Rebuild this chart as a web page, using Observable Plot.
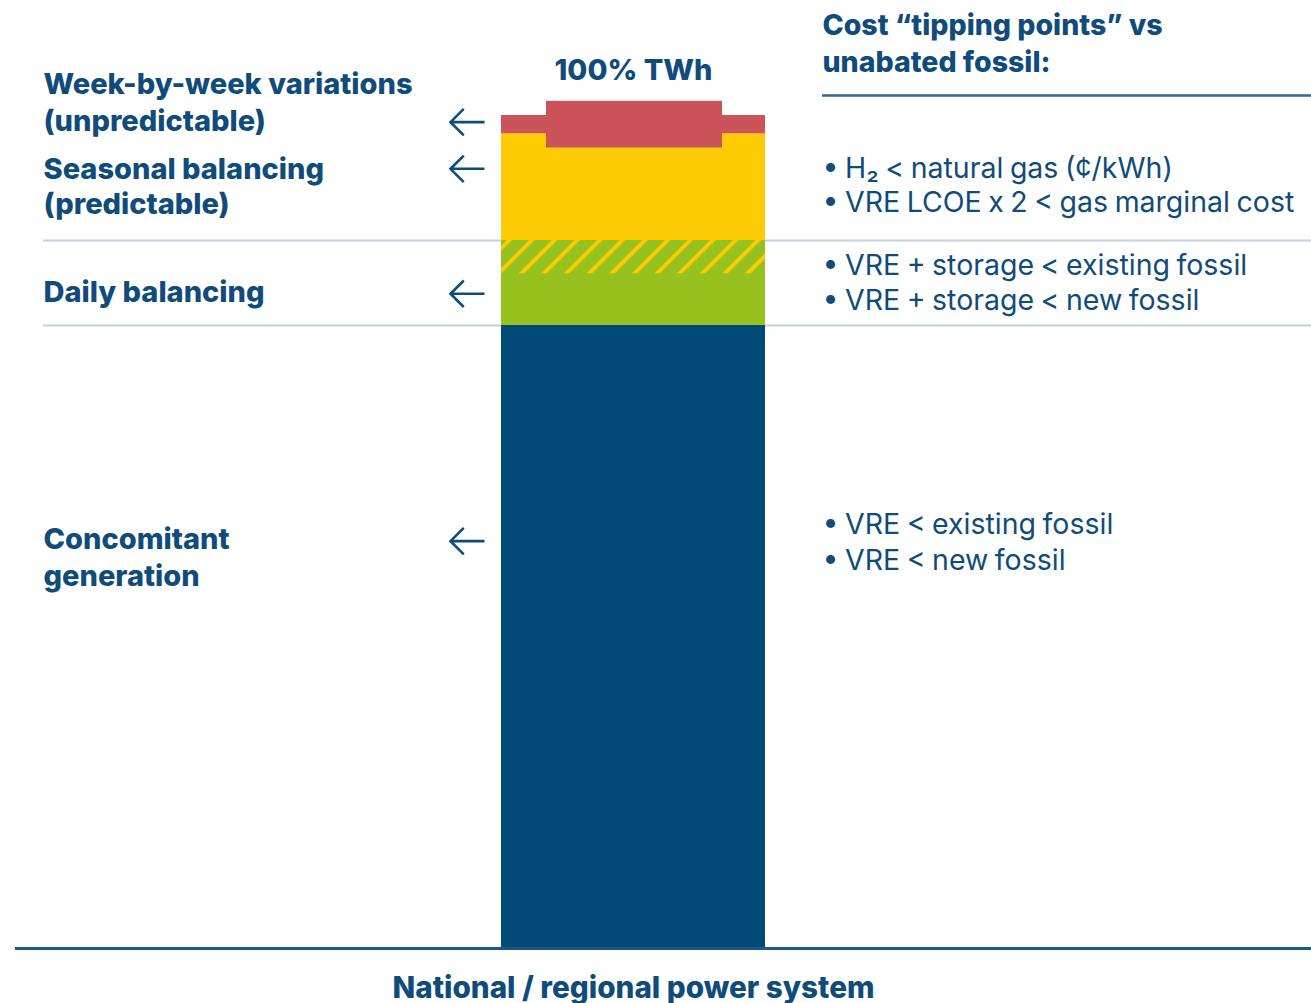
<!DOCTYPE html>
<html>
<head>
<meta charset="utf-8">
<script src="https://cdn.jsdelivr.net/npm/d3@7"></script>
<script src="https://cdn.jsdelivr.net/npm/@observablehq/plot@0.6"></script>
<style>
  html, body { margin: 0; padding: 0; background: #ffffff; }
  #chart { width: 1311px; height: 1003px; }
  svg { display: block; }
</style>
</head>
<body>
<div id="chart"></div>
<script>
// ---------- data ----------
const categories = ["Concomitant generation", "Daily balancing", "Seasonal balancing", "Week-by-week variations"];
const shares = [74.8, 10.2, 12.8, 2.2];          // % of TWh, bottom to top
const colors = ["#004a77", "#97c21e", "#ffcb05", "#cd535a"];
const hatchedShare = 4.0;                          // upper part of daily balancing, hatched
const weekSwing = 2.8;                             // +/- spread of week-by-week variations
const systemLabel = "National / regional power system";
const totalLabel = "100% TWh";
const leftLabels = ["Concomitant\ngeneration", "Daily balancing", "Seasonal balancing\n(predictable)", "Week-by-week variations\n(unpredictable)"];
const costHeader = "Cost \u201ctipping points\u201d vs\nunabated fossil:";
const tippingPoints = [
  "\u2022 VRE < existing fossil\n\u2022 VRE < new fossil",
  "\u2022 VRE + storage < existing fossil\n\u2022 VRE + storage < new fossil",
  "\u2022 H\u2082 < natural gas (\u00a2/kWh)\n\u2022 VRE LCOE x 2 < gas marginal cost"
];

// ---------- derived ----------
let acc = 0;
const segments = categories.map((c, i) => {
  const s = {category: c, share: shares[i], color: colors[i], y1: acc, y2: acc + shares[i]};
  acc += shares[i];
  return s;
});
const total = acc;
const boundaries = [segments[0].y2, segments[1].y2];
const daily = segments[1];
const week = segments[3];
const weekMid = (week.y1 + week.y2) / 2;

// ---------- layout (label anchors in y units) ----------
const ink = "#0f4c7b";
const labelAt = [47.2, 79.0, 91.6, 101.8];
const arrowAt = [48.9, 78.6, 93.6, 99.2];
const noteAt = [49.0, 80.1, 91.8];
const headerAt = 108.9;
const totalAt = 105.4;
const headerRuleAt = 102.4;

const arrowSymbol = {
  draw(context, size) {
    const r = Math.sqrt(size / Math.PI);
    context.moveTo(r, 0);
    context.lineTo(-r, 0);
    context.moveTo(-r + r * 0.78, -r * 0.78);
    context.lineTo(-r, 0);
    context.lineTo(-r + r * 0.78, r * 0.78);
  }
};

const textCommon = {fill: ink, fontFamily: "Inter"};

const marks = [
  // separators
  Plot.ruleY(boundaries, {stroke: "#c2d2df", strokeWidth: 2}),
  Plot.ruleY([headerRuleAt], {stroke: "#2f6592", strokeWidth: 2.5, insetLeft: 779}),
  // stacked bar
  Plot.barY(segments, {x: () => systemLabel, y1: "y1", y2: "y2", fill: "color"}),
  Plot.barY([daily], {x: () => systemLabel, y1: d => d.y2 - hatchedShare, y2: "y2", fill: "url(#hatch)"}),
  Plot.barY([week], {x: () => systemLabel, y1: () => weekMid - weekSwing, y2: () => weekMid + weekSwing, fill: "color", insetLeft: 45, insetRight: 43}),
  // baseline
  Plot.ruleY([0], {stroke: "#1d5786", strokeWidth: 3, insetLeft: -28}),
  // arrows
  Plot.dot(arrowAt, {y: d => d, frameAnchor: "left", dx: 424, symbol: arrowSymbol, r: 17, stroke: ink, strokeWidth: 2.6, fill: "none"}),
  // left labels
  ...leftLabels.map((t, i) => Plot.text([t], {y: () => labelAt[i], frameAnchor: "left", textAnchor: "start", fontSize: 29, fontWeight: 800, lineHeight: i === 2 ? 1.18 : 1.28, ...textCommon})),
  // right notes
  ...tippingPoints.map((t, i) => Plot.text([t], {y: () => noteAt[i], frameAnchor: "left", dx: 779, textAnchor: "start", fontSize: 28.5, fontWeight: 400, lineHeight: i === 0 ? 1.29 : 1.22, ...textCommon})),
  Plot.text([costHeader], {y: () => headerAt, frameAnchor: "left", dx: 779, textAnchor: "start", fontSize: 28.5, fontWeight: 800, lineHeight: 1.3, ...textCommon}),
  Plot.text([totalLabel], {x: () => systemLabel, y: () => totalAt, fontSize: 29, fontWeight: 800, ...textCommon}),
  Plot.text([systemLabel], {x: d => d, y: () => 0, dy: 40, fontSize: 30, fontWeight: 800, ...textCommon})
];

const plot = Plot.plot({
  width: 1311,
  height: 1003,
  marginLeft: 43,
  marginRight: 0,
  marginTop: 115,
  marginBottom: 55,
  x: {type: "band", domain: [systemLabel], range: [501, 765], padding: 0, axis: null},
  y: {domain: [0, total], axis: null},
  color: {type: "identity"},
  style: {background: "#ffffff", overflow: "visible"},
  marks
});

// hatch pattern for the lower-risk part of daily balancing
const svg = d3.select(plot);
const defs = svg.insert("defs", ":first-child");
const pat = defs.append("pattern")
  .attr("id", "hatch")
  .attr("patternUnits", "userSpaceOnUse")
  .attr("width", 16)
  .attr("height", 16)
  .attr("patternTransform", "rotate(45)");
pat.append("rect").attr("width", 16).attr("height", 16).attr("fill", colors[1]);
pat.append("rect").attr("width", 3.8).attr("height", 16).attr("fill", colors[2]);

// condensed bottom caption
svg.selectAll("text")
  .filter(function () { return this.textContent === systemLabel; })
  .attr("textLength", 482)
  .attr("lengthAdjust", "spacingAndGlyphs");

// tighter word spacing on bullet notes
svg.selectAll("text")
  .filter(function () { return this.textContent.includes("\u2022"); })
  .style("word-spacing", "-1.5px");

document.getElementById("chart").appendChild(plot);
</script>
</body>
</html>
